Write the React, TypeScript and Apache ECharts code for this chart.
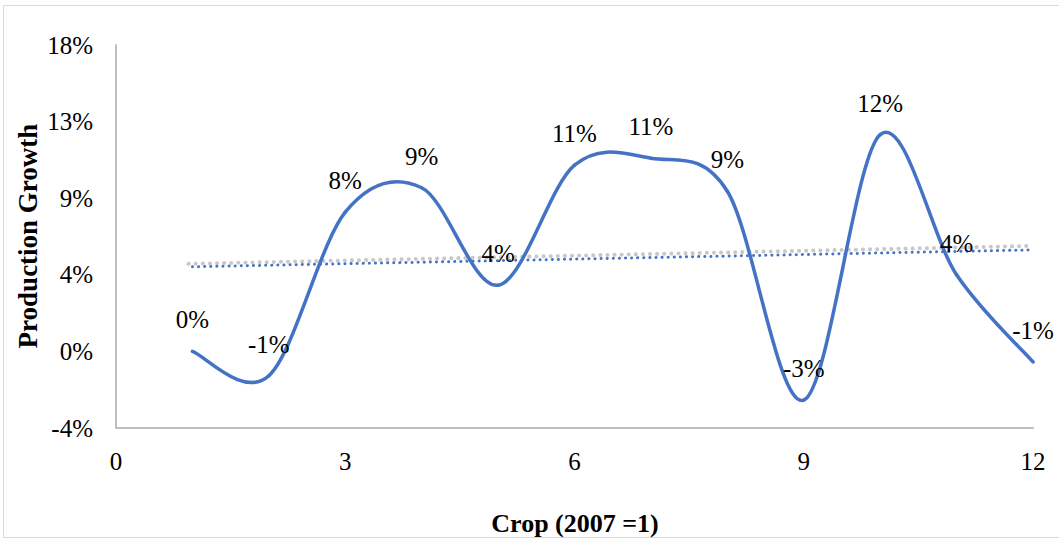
import React, { useEffect, useRef } from "react";
import * as echarts from "echarts";

const crops = [1, 2, 3, 4, 5, 6, 7, 8, 9, 10, 11, 12];
const growth = [0.0, -0.014, 0.08, 0.094, 0.038, 0.107, 0.111, 0.092, -0.028, 0.1245, 0.044, -0.006];
const blueTrend = [[1, 0.0486], [12, 0.0583]];
const grayTrend = [[0.95, 0.0503], [12, 0.0606]];
const xTicks = { min: 0, max: 12, interval: 3 };
const yTicks = { min: -0.044, max: 0.176, interval: 0.044 };

const FONT = "'Liberation Serif', 'Times New Roman', serif";
const BLUE = "#4472C4";

export default function App() {
  const ref = useRef<HTMLDivElement>(null);
  useEffect(() => {
    if (!ref.current) return;
    const chart = echarts.init(ref.current, undefined, { renderer: "svg" });
    const pct = (v: number) => Math.round(v * 100) + "%";
    const n = crops.length;
    const renderItem = (params: any, api: any) => {
      const i = params.dataIndex;
      if (i >= n - 1) return { type: "group", children: [] };
      const pt = (j: number) => api.coord([crops[j], growth[j]]);
      const p1 = pt(i);
      const p0 = pt(Math.max(i - 1, 0));
      const p2 = pt(i + 1);
      const p3 = pt(Math.min(i + 2, n - 1));
      return {
        type: "bezierCurve",
        shape: {
          x1: p1[0],
          y1: p1[1],
          cpx1: p1[0] + (p2[0] - p0[0]) / 6,
          cpy1: p1[1] + (p2[1] - p0[1]) / 6,
          cpx2: p2[0] - (p3[0] - p1[0]) / 6,
          cpy2: p2[1] - (p3[1] - p1[1]) / 6,
          x2: p2[0],
          y2: p2[1],
        },
        style: { fill: "none", stroke: BLUE, lineWidth: 3.5, lineCap: "round" },
      };
    };
    const baseGraphics: any[] = [
      {
        type: "rect",
        shape: { x: 3.5, y: 5.5, width: 1070, height: 532 },
        style: { fill: "none", stroke: "#d9d9d9", lineWidth: 1 },
        silent: true,
        z: -1,
      },
      {
        type: "text",
        x: 28,
        y: 236,
        rotation: Math.PI / 2,
        style: {
          text: "Production Growth",
          fontFamily: FONT,
          fontWeight: "bold",
          fontSize: 27,
          fill: "#000",
          align: "center",
          verticalAlign: "middle",
        },
      },
      {
        type: "text",
        x: 575,
        y: 523,
        style: {
          text: "Crop (2007 =1)",
          fontFamily: FONT,
          fontWeight: "bold",
          fontSize: 26,
          fill: "#000",
          align: "center",
          verticalAlign: "middle",
        },
      },
    ];
    chart.setOption({
      animation: false,
      backgroundColor: "#ffffff",
      textStyle: { fontFamily: FONT },
      grid: { left: 116, right: 26, top: 45, bottom: 113 },
      graphic: baseGraphics,
      xAxis: {
        type: "value",
        min: xTicks.min,
        max: xTicks.max,
        interval: xTicks.interval,
        axisLine: { onZero: false, lineStyle: { color: "#bfbfbf", width: 2 } },
        axisTick: { show: false },
        splitLine: { show: false },
        axisLabel: { fontFamily: FONT, fontSize: 25, color: "#000", margin: 21 },
      },
      yAxis: {
        type: "value",
        min: yTicks.min,
        max: yTicks.max,
        interval: yTicks.interval,
        axisLine: { show: true, onZero: false, lineStyle: { color: "#bfbfbf", width: 2 } },
        axisTick: { show: false },
        splitLine: { show: false },
        axisLabel: { fontFamily: FONT, fontSize: 25, color: "#000", margin: 23, formatter: pct },
      },
      series: [
        {
          type: "line",
          data: grayTrend,
          showSymbol: false,
          lineStyle: { color: "#c8c8c8", width: 4, type: [0.1, 7], cap: "round" },
          z: 1,
        },
        {
          type: "line",
          data: blueTrend,
          showSymbol: false,
          lineStyle: { color: BLUE, width: 3, type: [0.1, 6], cap: "round" },
          z: 2,
        },
        {
          type: "custom",
          data: crops.map((c, i) => [c, growth[i]]),
          renderItem,
          encode: { x: 0, y: 1 },
          z: 3,
        },
      ],
    });
    const labels = crops.map((c, i) => {
      const p = chart.convertToPixel({ gridIndex: 0 }, [c, growth[i]]) as number[];
      return {
        type: "text",
        x: p[0],
        y: p[1] - 19,
        z: 10,
        style: {
          text: pct(growth[i]),
          fontFamily: "Liberation Serif",
          fontWeight: "normal",
          fontStyle: "normal",
          fontSize: 25,
          fill: "#000",
          align: "center",
          verticalAlign: "bottom",
        },
      };
    });
    chart.setOption({ graphic: [...baseGraphics, ...labels] });
    return () => chart.dispose();
  }, []);
  return (
    <div
      ref={ref}
      style={{ position: "fixed", left: 0, top: 0, width: 1059, height: 541 }}
    />
  );
}
